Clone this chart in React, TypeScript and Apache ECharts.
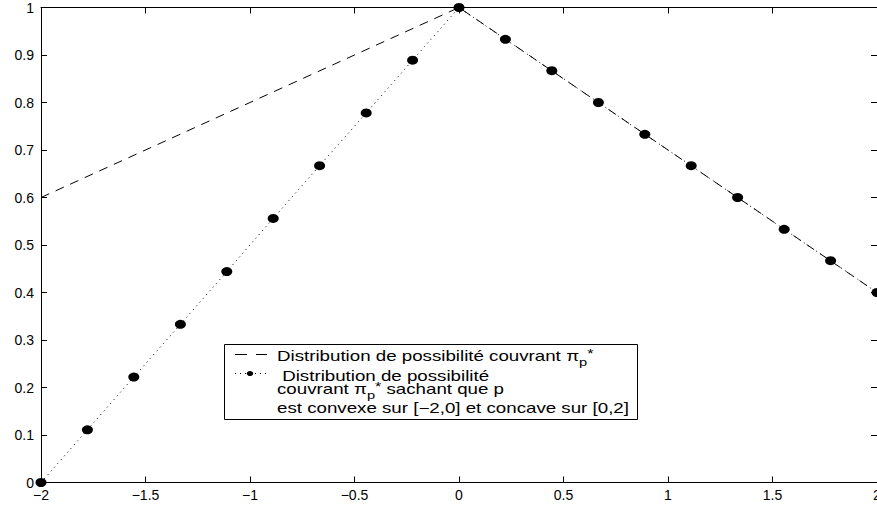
import React, { useEffect, useRef } from "react";
import * as echarts from "echarts";

// ---- data ----
const dashedX = [-2, 0, 2];
const dashedY = [0.6, 1, 0.4];

const dottedX = [-2, -1.778, -1.556, -1.333, -1.111, -0.889, -0.667, -0.444, -0.222, 0,
  0.222, 0.444, 0.667, 0.889, 1.111, 1.333, 1.556, 1.778, 2];
const dottedY = [0, 0.111, 0.222, 0.333, 0.444, 0.556, 0.667, 0.778, 0.889, 1,
  0.933, 0.867, 0.8, 0.733, 0.667, 0.6, 0.533, 0.467, 0.4];

const xTicks = { min: -2, max: 2, interval: 0.5 };
const yTicks = { min: 0, max: 1, interval: 0.1 };

const legendLine1 = "Distribution de possibilité couvrant ";
const legendLine2 = " Distribution de possibilité";
const legendLine3a = "couvrant ";
const legendLine3b = " sachant que p";
const legendLine4 = "est convexe sur [\u22122,0] et concave sur [0,2]";

const FONT = '"Liberation Sans", Arial, Helvetica, sans-serif';

function fmt(v: number) {
  const s = String(Math.round(v * 1000) / 1000);
  return s.replace("-", "\u2212");
}

export default function App() {
  const ref = useRef<HTMLDivElement>(null);
  useEffect(() => {
    if (!ref.current) return;
    const chart = echarts.init(ref.current, null, { renderer: "svg" });

    const canvas = document.createElement("canvas");
    const ctx = canvas.getContext("2d")!;
    const measure = (t: string, size: number) => {
      ctx.font = `${size}px ${FONT}`;
      return ctx.measureText(t).width;
    };
    const s = 284 / measure("Distribution de possibilité couvrant", 14);

    const txt = (text: string, x: number, y: number, size = 14) => ({
      type: "text",
      x,
      y,
      scaleX: s,
      silent: true,
      z: 101,
      style: { text, font: `${size}px ${FONT}`, fill: "#000", verticalAlign: "middle", align: "left" },
    });

    // base text + pi_p^* + rest
    const piGroup = (before: string, after: string, x: number, y: number) => {
      const els: any[] = [];
      els.push(txt(before, x, y));
      let cx = x + measure(before, 14) * s;
      els.push(txt("\u03c0", cx, y));
      cx += measure("\u03c0", 14) * s;
      els.push(txt("p", cx, y + 6, 11));
      const pw = measure("p", 11) * s;
      els.push(txt("*", cx + pw, y - 2.5, 12));
      cx += pw + measure("*", 12) * s;
      if (after) els.push(txt(after, cx, y));
      return els;
    };

    const legendX = 224.5, legendY = 344.5, legendW = 413, legendH = 75;

    const graphic: any[] = [
      {
        type: "rect",
        z: 100,
        silent: true,
        shape: { x: legendX, y: legendY, width: legendW, height: legendH },
        style: { fill: "#fff", stroke: "#000", lineWidth: 1 },
      },
      { type: "line", z: 101, silent: true, shape: { x1: 235, y1: 354.5, x2: 247, y2: 354.5 }, style: { stroke: "#000", lineWidth: 1 } },
      { type: "line", z: 101, silent: true, shape: { x1: 256, y1: 354.5, x2: 267, y2: 354.5 }, style: { stroke: "#000", lineWidth: 1 } },
      { type: "line", z: 101, silent: true, shape: { x1: 235, y1: 373.5, x2: 266, y2: 373.5 }, style: { stroke: "#000", lineWidth: 1, lineDash: [1, 4] } },
      { type: "ellipse", z: 102, silent: true, shape: { cx: 250, cy: 373.5, rx: 3.2, ry: 2.6 }, style: { fill: "#000" } },
      ...piGroup(legendLine1, "", 277, 356),
      txt(legendLine2, 277, 376.5),
      ...piGroup(legendLine3a, legendLine3b, 277, 389),
      txt(legendLine4, 277, 408),
    ];

    const axisCommon = {
      type: "value",
      splitLine: { show: false },
      axisLine: { show: true, onZero: false, lineStyle: { color: "#000", width: 1 } },
      axisTick: { show: true, inside: true, length: 6, lineStyle: { color: "#000", width: 1 } },
    };

    chart.setOption({
      animation: false,
      backgroundColor: "#fff",
      grid: { left: 41, right: 0, top: 7.5, bottom: 24.5, containLabel: false, outerBoundsMode: "none" },
      xAxis: [
        {
          ...axisCommon,
          position: "bottom",
          ...xTicks,
          axisLabel: { show: true, color: "#000", fontFamily: FONT, fontSize: 14, margin: 5, formatter: fmt },
        },
        {
          ...axisCommon,
          position: "top",
          ...xTicks,
          axisLabel: { show: false },
        },
      ],
      yAxis: [
        {
          ...axisCommon,
          position: "left",
          ...yTicks,
          axisLabel: { show: true, color: "#000", fontFamily: FONT, fontSize: 14, margin: 7, formatter: fmt },
        },
        {
          ...axisCommon,
          position: "right",
          ...yTicks,
          axisLabel: { show: false },
        },
      ],
      series: [
        {
          type: "line",
          xAxisIndex: 0,
          yAxisIndex: 0,
          data: dashedX.map((x, i) => [x, dashedY[i]]),
          showSymbol: false,
          symbol: "none",
          clip: false,
          lineStyle: { color: "#000", width: 1, type: [9, 7] },
          z: 3,
        },
        {
          type: "line",
          xAxisIndex: 0,
          yAxisIndex: 0,
          data: dottedX.map((x, i) => [x, dottedY[i]]),
          symbol: "circle",
          symbolSize: [11, 9],
          showAllSymbol: true,
          clip: false,
          itemStyle: { color: "#000" },
          lineStyle: { color: "#000", width: 1, type: [1, 4] },
          z: 4,
        },
      ],
      graphic,
    });
    return () => chart.dispose();
  }, []);
  return (
    <div
      ref={ref}
      style={{ position: "absolute", left: 0, top: 0, width: 877, height: 507 }}
    />
  );
}
